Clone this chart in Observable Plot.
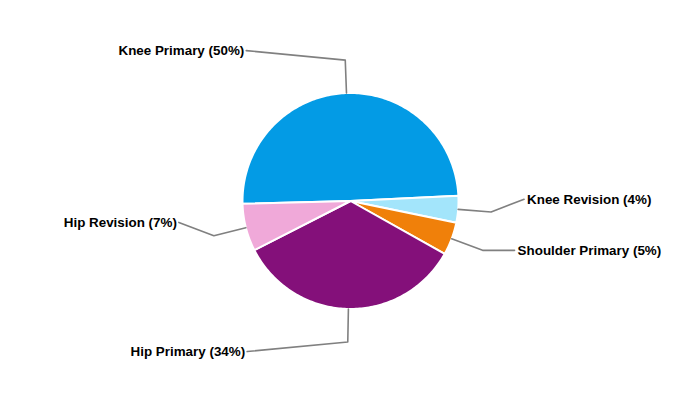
<!DOCTYPE html>
<html>
<head>
<meta charset="utf-8">
<script src="https://cdn.jsdelivr.net/npm/d3@7"></script>
<script src="https://cdn.jsdelivr.net/npm/@observablehq/plot@0.6"></script>
<style>
  html, body { margin: 0; padding: 0; background: #fff; }
  #chart svg { display: block; }
</style>
</head>
<body>
<div id="chart"></div>
<script>
// ---- data ----
const categories = ["Knee Primary", "Knee Revision", "Shoulder Primary", "Hip Primary", "Hip Revision"];
const shares = [49.6, 4.0, 4.9, 34.3, 7.1];
const colors = ["#039BE5", "#A3E5FB", "#F0800A", "#84107A", "#F0A9D9"];

// ---- layout ----
const R = 108;             // pie radius (px units)
const elbowR = 141;        // leader-line elbow radius
const startDeg = -91.5;    // compass angle where first slice begins
const labelNudge = [[-99, -9.5], [33, -12.7], [32, 0], [-100.6, 9.6], [-35, -13.4]];

const rad = Math.PI / 180;
const pie = d3.pie().sort(null).value(d => d)
  .startAngle(startDeg * rad).endAngle(startDeg * rad + 2 * Math.PI);
const arcs = pie(shares);
const pt = (a, r) => [r * Math.sin(a), -r * Math.cos(a)];

// slice polygons
const slicePts = [];
arcs.forEach((a, i) => {
  slicePts.push({cat: categories[i], x: 0, y: 0});
  const n = Math.max(2, Math.ceil((a.endAngle - a.startAngle) / rad));
  for (let k = 0; k <= n; k++) {
    const ang = a.startAngle + (a.endAngle - a.startAngle) * k / n;
    const [x, y] = pt(ang, R);
    slicePts.push({cat: categories[i], x, y});
  }
});

// leader lines and labels
const leaderPts = [];
const labels = [];
arcs.forEach((a, i) => {
  const mid = (a.startAngle + a.endAngle) / 2;
  const [x0, y0] = pt(mid, R);
  const [x1, y1] = pt(mid, elbowR);
  const x2 = x1 + labelNudge[i][0], y2 = y1 + labelNudge[i][1];
  leaderPts.push({cat: categories[i], x: x0, y: y0},
                 {cat: categories[i], x: x1, y: y1},
                 {cat: categories[i], x: x2, y: y2});
  const left = labelNudge[i][0] < 0;
  labels.push({
    text: `${categories[i]} (${Math.round(shares[i])}%)`,
    x: x2 + (left ? -2 : 3), y: y2,
    anchor: left ? "end" : "start"
  });
});

const chart = Plot.plot({
  width: 700,
  height: 400,
  margin: 0,
  style: {fontFamily: "'Liberation Sans', Arial, sans-serif", background: "#fff"},
  x: {domain: [-350, 350], axis: null},
  y: {domain: [199.5, -200.5], axis: null},
  color: {domain: categories, range: colors},
  marks: [
    Plot.line(slicePts, {x: "x", y: "y", z: "cat", fill: "cat", stroke: "#fff",
      strokeWidth: 2, strokeLinejoin: "round", curve: "linear-closed"}),
    Plot.line(leaderPts, {x: "x", y: "y", z: "cat", stroke: "#808080", strokeWidth: 1.6}),
    Plot.text(labels.filter(d => d.anchor === "end"), {x: "x", y: "y", text: "text",
      textAnchor: "end", fontWeight: "bold", fontSize: 13.4, fill: "#000"}),
    Plot.text(labels.filter(d => d.anchor === "start"), {x: "x", y: "y", text: "text",
      textAnchor: "start", fontWeight: "bold", fontSize: 13.4, fill: "#000"})
  ]
});
document.getElementById("chart").appendChild(chart);
</script>
</body>
</html>
